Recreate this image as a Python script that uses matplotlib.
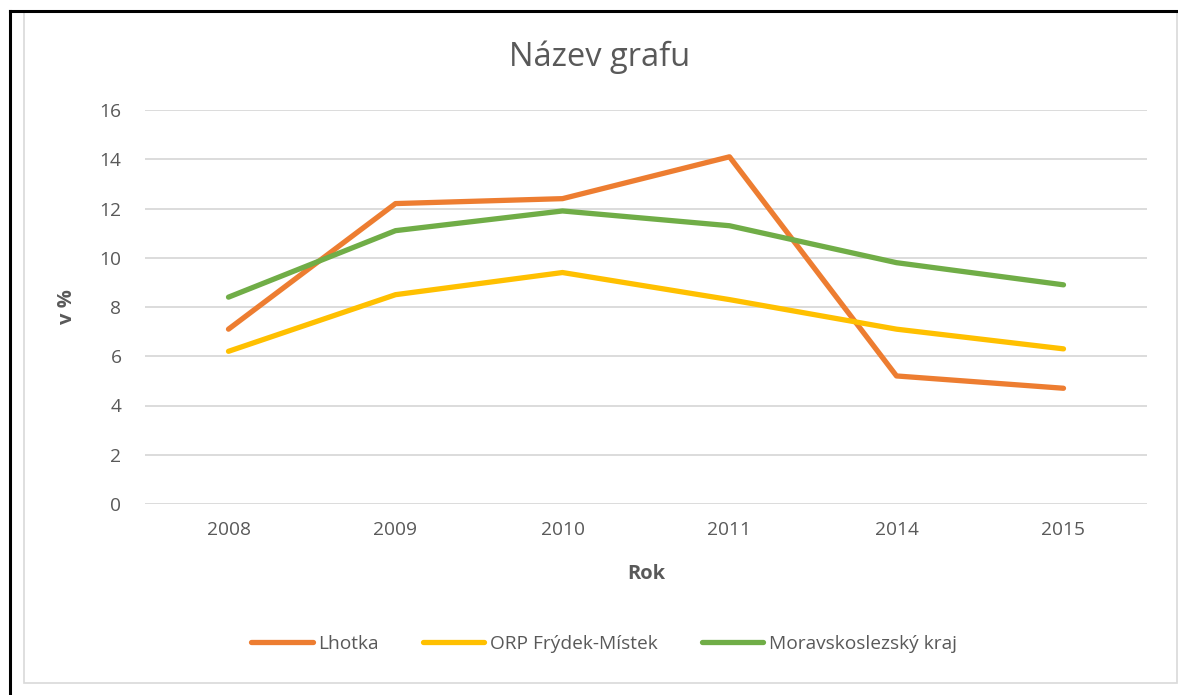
import matplotlib
matplotlib.use('Agg')
import matplotlib.pyplot as plt
from matplotlib.lines import Line2D
from matplotlib.patches import Rectangle

years = ['2008', '2009', '2010', '2011', '2014', '2015']
lhotka = [7.1, 12.2, 12.4, 14.1, 5.2, 4.7]
orp_frydek = [6.2, 8.5, 9.4, 8.3, 7.1, 6.3]
msk_kraj = [8.4, 11.1, 11.9, 11.3, 9.8, 8.9]

series = [
    ('Lhotka', lhotka, '#ED7D31'),
    ('ORP Frýdek-Místek', orp_frydek, '#FFC000'),
    ('Moravskoslezský kraj', msk_kraj, '#70AD47'),
]

plt.rcParams['font.family'] = ['Open Sans', 'DejaVu Sans']
text_col = '#595959'

W, H = 1178, 695
fig = plt.figure(figsize=(W / 100, H / 100), dpi=100)

# black frame top/left and grey chart-area border
fig.add_artist(Line2D([9.5 / W, 1.0], [1 - 10.5 / H, 1 - 10.5 / H], color='black', lw=2.2,
                      transform=fig.transFigure))
fig.add_artist(Line2D([10 / W, 10 / W], [0, 1 - 10.5 / H], color='black', lw=2.2,
                      transform=fig.transFigure))
fig.add_artist(Rectangle((23.5 / W, 1 - 683 / H), (1176.5 - 23.5) / W, (683 - 11.5) / H,
                         fill=False, edgecolor='#D9D9D9', lw=1.2, transform=fig.transFigure))

ax = fig.add_axes([145 / W, 1 - 504 / H, (1147 - 145) / W, (504 - 110) / H])
x = list(range(len(years)))
for name, vals, col in series:
    ax.plot(x, vals, color=col, lw=3.8, solid_capstyle='round', solid_joinstyle='round',
            label=name, zorder=3)

ax.set_xlim(-0.5, len(years) - 0.5)
ax.set_ylim(0, 16)
ax.set_yticks(range(0, 17, 2))
ax.set_xticks(x)
ax.set_xticklabels(years)
ax.grid(axis='y', color='#D9D9D9', lw=1.3)
ax.set_axisbelow(True)
for s in ax.spines.values():
    s.set_visible(False)
ax.tick_params(length=0, labelsize=13.8, colors=text_col, pad=12)
ax.tick_params(axis='y', pad=17)

ax.set_xlabel('Rok', fontsize=14.5, fontweight='bold', color=text_col, labelpad=18)
ax.set_ylabel('v %', fontsize=14.5, fontweight='bold', color=text_col, labelpad=16)

fig.text(600 / W, 1 - 57 / H, 'Název grafu', ha='center', va='center', fontsize=23.5,
         color=text_col)

fig.legend(loc='center', bbox_to_anchor=(604 / W, 1 - 644 / H), ncol=3, frameon=False,
           fontsize=13.8, labelcolor=text_col, handlelength=3.2, handletextpad=0.3,
           columnspacing=2.3)

fig.savefig('out.png', dpi=100)
